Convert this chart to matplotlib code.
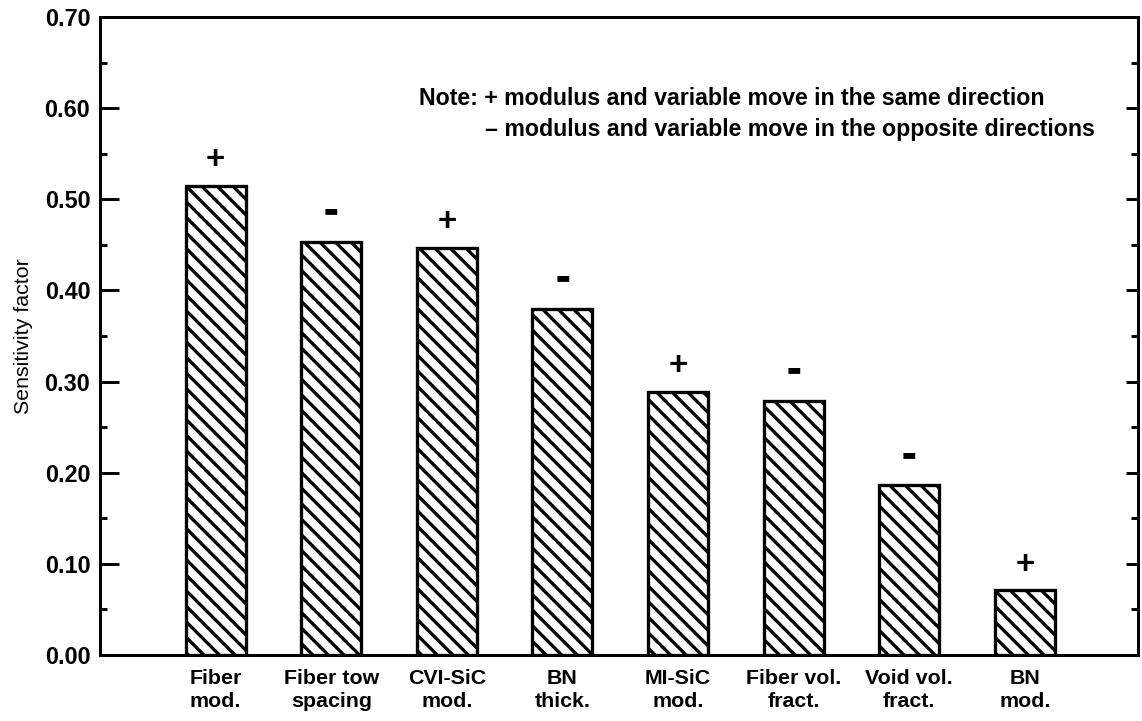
import matplotlib
matplotlib.use("Agg")
import matplotlib.pyplot as plt
from matplotlib.ticker import MultipleLocator, FormatStrFormatter

# bar data
labels = ["Fiber\nmod.", "Fiber tow\nspacing", "CVI-SiC\nmod.", "BN\nthick.",
          "MI-SiC\nmod.", "Fiber vol.\nfract.", "Void vol.\nfract.", "BN\nmod."]
sensitivity = [0.515, 0.453, 0.447, 0.380, 0.289, 0.279, 0.186, 0.071]
signs = ["+", "-", "+", "-", "+", "-", "-", "+"]

plt.rcParams["font.family"] = ["Liberation Sans", "DejaVu Sans"]
plt.rcParams["hatch.linewidth"] = 1.7

DPI = 140
fig = plt.figure(figsize=(1142 / DPI, 721 / DPI), dpi=DPI)
ax = fig.add_axes([0.0876, 0.0915, 0.909, 0.885])

pos = list(range(1, len(labels) + 1))
ax.bar(pos, sensitivity, width=0.52, facecolor="white", edgecolor="black",
       linewidth=1.7, hatch="\\\\\\")

for x, v, s in zip(pos, sensitivity, signs):
    if s == "+":
        ax.annotate("+", (x, v), xytext=(0, 13), textcoords="offset points",
                    ha="center", va="center", fontsize=17, fontweight="bold")
    else:
        ax.annotate("\u25ac", (x, v), xytext=(0, 16), textcoords="offset points",
                    ha="center", va="center", fontsize=8, family="DejaVu Sans")

ax.set_xlim(0, 8.98)
ax.set_ylim(0, 0.70)
ax.set_xticks(pos, labels, fontsize=11, fontweight="bold", linespacing=1.3)
ax.tick_params(axis="x", length=0, pad=7)
ax.yaxis.set_major_locator(MultipleLocator(0.10))
ax.yaxis.set_minor_locator(MultipleLocator(0.05))
ax.yaxis.set_major_formatter(FormatStrFormatter("%.2f"))
ax.tick_params(axis="y", which="major", direction="in", length=10, width=1.5,
               labelsize=12, pad=5)
ax.tick_params(axis="y", which="minor", direction="in", length=3.6, width=1.5)
for lab in ax.get_yticklabels():
    lab.set_fontweight("bold")
for sp in ax.spines.values():
    sp.set_linewidth(1.5)

# right-hand ticks are shorter than the left ones
axr = ax.twinx()
axr.set_ylim(ax.get_ylim())
axr.yaxis.set_major_locator(MultipleLocator(0.10))
axr.yaxis.set_minor_locator(MultipleLocator(0.05))
axr.tick_params(axis="y", which="major", direction="in", length=6, width=1.5,
                labelright=False)
axr.tick_params(axis="y", which="minor", direction="in", length=3.6, width=1.5)
for sp in axr.spines.values():
    sp.set_linewidth(1.5)

ax.set_ylabel("Sensitivity factor", fontsize=11, labelpad=6)

ax.text(2.755, 0.61, "Note: + modulus and variable move in the same direction",
        fontsize=11.9, fontweight="bold", va="center", ha="left")
ax.text(3.33, 0.577, "\u2013 modulus and variable move in the opposite directions",
        fontsize=11.9, fontweight="bold", va="center", ha="left")

fig.savefig("out.png", dpi=DPI)
